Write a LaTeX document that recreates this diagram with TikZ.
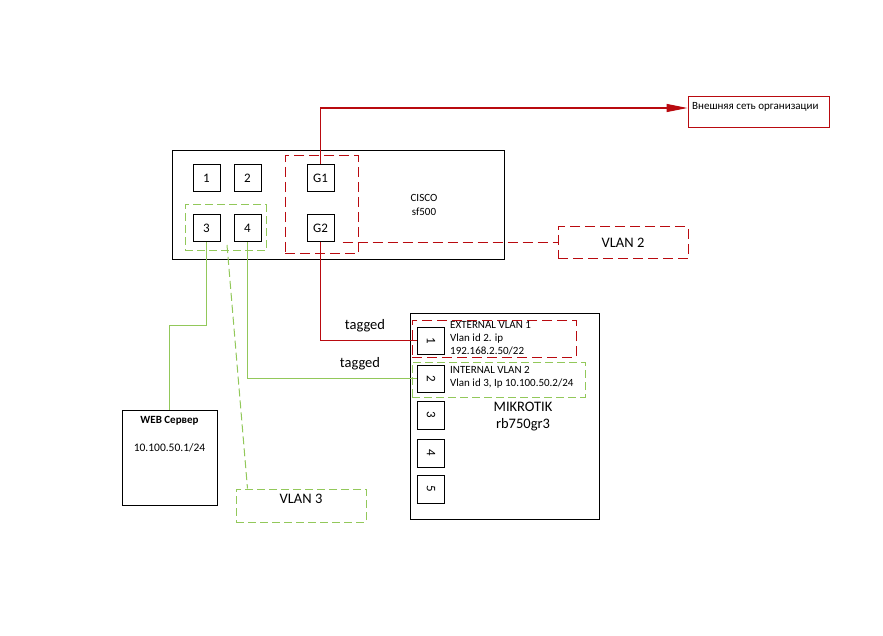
\documentclass[tikz,border=0pt]{standalone}
\usepackage{fontspec}
\setmainfont{Carlito}
\usetikzlibrary{arrows.meta}
\definecolor{dred}{RGB}{185,10,15}
\definecolor{lgreen}{RGB}{146,200,90}
\tikzset{
  blk/.style={draw=black, line width=1pt, inner sep=0pt},
  port/.style={blk, minimum width=27pt, minimum height=27pt, font=\fontsize{13}{14}\selectfont},
  mport/.style={blk, minimum width=27pt, minimum height=28pt, font=\fontsize{13}{14}\selectfont},
  reddash/.style={draw=dred, line width=1pt, dash pattern=on 10pt off 5pt},
  greendash/.style={draw=lgreen, line width=1pt, dash pattern=on 8pt off 4pt},
  redline/.style={draw=dred, line width=1.2pt},
  greenline/.style={draw=lgreen, line width=1.2pt},
  lbl/.style={inner sep=0pt, font=\fontsize{14.5}{16}\selectfont},
  small/.style={inner sep=0pt, font=\fontsize{11}{13}\selectfont, align=left},
}
\begin{document}
\begin{tikzpicture}[x=1pt,y=-1pt]
\useasboundingbox[fill=white] (0,0) rectangle (883,636);

% CISCO switch
\node[blk, minimum width=332pt, minimum height=109pt] (cisco) at (338,205.5) {};
\node[port] (p1) at (206.5,178.5) {1};
\node[port] (p2) at (247.5,178.5) {2};
\node[port] (p3) at (206.5,228.5) {3};
\node[port] (p4) at (247.5,228.5) {4};
\node[port] (g1) at (320.5,178.5) {G1};
\node[port] (g2) at (320.5,228.5) {G2};
\node[greendash, inner sep=0pt, minimum width=81pt, minimum height=46pt] (vg) at (225.5,228) {};
\node[reddash, inner sep=0pt, minimum width=73pt, minimum height=98pt] (vr) at (321.5,205) {};
\node[inner sep=0pt, align=center, font=\fontsize{11}{14}\selectfont] (ciscolbl) at (424,205) {CISCO\\sf500};

% External network
\node[draw=dred, line width=1pt, inner sep=0pt, minimum width=141pt, minimum height=31pt] (ext) at (758.5,112.5) {};
\node[inner sep=0pt, anchor=west, font=\fontsize{11}{13}\selectfont] (extlbl) at (692,107) {Внешняя сеть организации};
\coordinate (extin) at ([yshift=4.5pt]ext.west);
\draw[redline, -{Triangle[length=21pt,width=8pt]}] (g1.north) |- (extin);

% VLAN 2
\node[reddash, lbl, minimum width=130pt, minimum height=32pt] (vlan2) at (623,243) {VLAN 2};
\draw[reddash] ([xshift=8pt]vlan2.west -| g2.east) -- (vlan2.west);

% MIKROTIK
\node[blk, minimum width=189pt, minimum height=206pt] (mk) at (504.5,416) {};
\node[mport, minimum height=27pt] (m1) at (431,340.5) {\rotatebox{-90}{1}};
\node[mport, minimum height=27pt] (m2) at (431,378.5) {\rotatebox{-90}{2}};
\node[mport] (m3) at (431,415) {\rotatebox{-90}{3}};
\node[mport] (m4) at (431,453) {\rotatebox{-90}{4}};
\node[mport] (m5) at (431,489) {\rotatebox{-90}{5}};
\node[reddash, inner sep=0pt, minimum width=164pt, minimum height=37pt] (vext) at (494,338.5) {};
\node[greendash, inner sep=0pt, minimum width=173pt, minimum height=35pt] (vint) at (498.5,379.5) {};
\node[small, anchor=north west] (extinfo) at (450,321) {EXTERNAL VLAN 1\\Vlan id 2. ip\\192.168.2.50/22};
\node[small, anchor=north west] (intinfo) at (450,366) {INTERNAL VLAN 2\\Vlan id 3, Ip 10.100.50.2/24};
\node[inner sep=0pt, align=center, font=\fontsize{14.5}{17}\selectfont] (mklbl) at (523,417) {MIKROTIK\\rb750gr3};

% tagged links
\draw[redline] (g2.south) |- (m1.west);
\node[lbl] (t1) at (365,326) {tagged};
\draw[greenline] (p4.south) |- (m2.west);
\node[lbl] (t2) at (360,364) {tagged};

% WEB server
\node[blk, minimum width=95pt, minimum height=95pt] (web) at (169.5,457.5) {};
\node[inner sep=0pt, font=\fontsize{11}{13}\selectfont\bfseries] (weblbl) at (169.5,421) {WEB Сервер};
\node[inner sep=0pt, font=\fontsize{11.5}{13}\selectfont] (webip) at (169.5,448) {10.100.50.1/24};
\draw[greenline] (p3.south) -- ++(0,83) -| (web.north);

% VLAN 3
\node[greendash, inner sep=0pt, minimum width=130pt, minimum height=33pt] (vlan3) at (301,505.5) {};
\node[lbl] (vlan3lbl) at (301,499) {VLAN 3};
\coordinate (d3) at (227,245);
\draw[greendash] (d3) -- ([xshift=12pt]vlan3.north west);
\end{tikzpicture}
\end{document}
